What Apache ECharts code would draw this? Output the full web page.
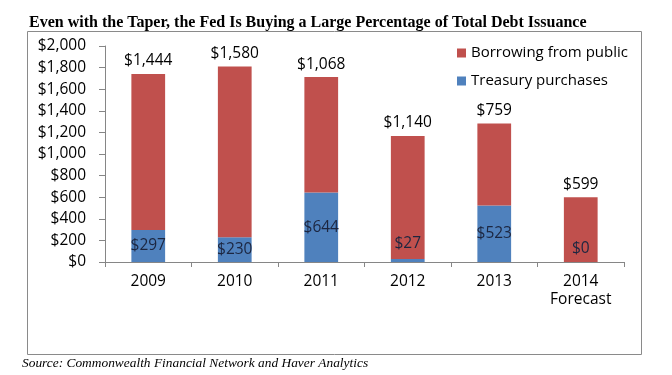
<!DOCTYPE html>
<html>
<head>
<meta charset="utf-8">
<script src="https://cdn.jsdelivr.net/npm/echarts@6/dist/echarts.min.js"></script>
<style>
html,body{margin:0;padding:0;background:#fff;}
#chart{width:672px;height:375px;}
</style>
</head>
<body>
<div id="chart"></div>
<script>
const categories = ['2009', '2010', '2011', '2012', '2013', '2014\nForecast'];
const treasuryPurchases = [297, 230, 644, 27, 523, 0];
const borrowingFromPublic = [1444, 1580, 1068, 1140, 759, 599];
const yTicks = [0, 200, 400, 600, 800, 1000, 1200, 1400, 1600, 1800, 2000];

const fmt = v => '$' + v.toLocaleString('en-US');
const FONT = 'Open Sans';
const FS = 15.5;

// small-value labels are lifted above the baseline as in the reference
const blueLabelOffset = treasuryPurchases.map(v => v < 50 ? [0, v === 0 ? -13 : -17] : [0, 0]);

const chart = echarts.init(document.getElementById('chart'), null, {renderer: 'canvas'});
chart.setOption({
  animation: false,
  backgroundColor: '#fff',
  title: {
    text: 'Even with the Taper, the Fed Is Buying a Large Percentage of Total Debt Issuance',
    left: 24, top: 10,
    textStyle: {fontFamily: 'Liberation Serif', fontWeight: 'bold', fontSize: 16, color: '#000'}
  },
  graphic: [
    {type: 'rect', shape: {x: 27.5, y: 31.5, width: 614, height: 323}, style: {fill: 'none', stroke: '#8a8a8a', lineWidth: 1}, silent: true, z: -1},
    {type: 'text', left: 22, top: 357, style: {text: 'Source: Commonwealth Financial Network and Haver Analytics', font: 'italic 13.4px "Liberation Serif"', fill: '#000'}}
  ],
  legend: {
    orient: 'vertical',
    left: 452, top: 38,
    itemWidth: 9, itemHeight: 9, itemGap: 8,
    icon: 'rect',
    data: ['Borrowing from public', 'Treasury purchases'],
    textStyle: {fontFamily: FONT, fontSize: 15, color: '#000', lineHeight: 20, padding: [0, 0, 0, 0]}
  },
  grid: {left: 105, right: 48, top: 46, bottom: 113, containLabel: false},
  xAxis: {
    type: 'category',
    data: categories,
    axisLine: {lineStyle: {color: '#868686'}},
    axisTick: {show: true, alignWithLabel: false, length: 5, lineStyle: {color: '#868686'}},
    axisLabel: {fontFamily: FONT, fontSize: FS, color: '#000', margin: 11, lineHeight: 18}
  },
  yAxis: {
    type: 'value',
    min: 0, max: 2000, interval: 200,
    splitLine: {show: false},
    axisLine: {show: true, lineStyle: {color: '#868686'}},
    axisTick: {show: true, length: 6, lineStyle: {color: '#868686'}},
    axisLabel: {fontFamily: FONT, fontSize: FS, color: '#000', margin: 19,
      formatter: v => yTicks.includes(v) ? fmt(v) : ''}
  },
  series: [
    {
      name: 'Treasury purchases', type: 'bar', stack: 'total',
      barWidth: '39%',
      itemStyle: {color: '#4F81BD'},
      data: treasuryPurchases.map((v, i) => ({value: v, label: {offset: blueLabelOffset[i]}})),
      label: {show: true, position: 'inside', formatter: p => fmt(p.value), fontFamily: FONT, fontSize: FS, color: '#1c2640'}
    },
    {
      name: 'Borrowing from public', type: 'bar', stack: 'total',
      barWidth: '39%',
      itemStyle: {color: '#C0504D'},
      data: borrowingFromPublic,
      label: {show: true, position: 'top', distance: 5, formatter: p => fmt(p.value), fontFamily: FONT, fontSize: FS, color: '#000'}
    }
  ]
});
</script>
</body>
</html>
